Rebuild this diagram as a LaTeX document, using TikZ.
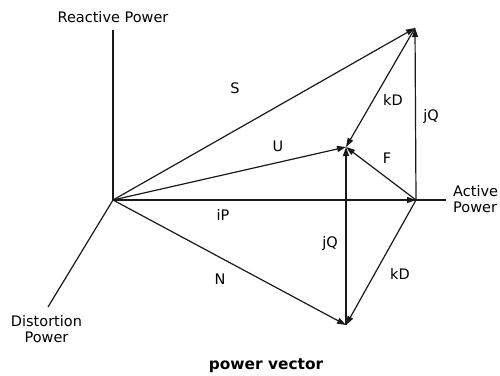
\documentclass[tikz,border=0pt]{standalone}
\usepackage{fontspec}
\setmainfont{DejaVu Sans}
\usetikzlibrary{arrows.meta}
\tikzset{
  axisline/.style={line width=1.2pt,black!90},
  vec/.style={line width=1.2pt,black!90,-{Triangle[length=9pt,width=6pt]}},
  lab/.style={font=\fontsize{14.5}{16}\selectfont,inner sep=0pt,text height=10.5pt,text depth=0pt},
  axlab/.style={font=\fontsize{14.5}{16}\selectfont,inner sep=0pt,align=center},
  ttl/.style={font=\bfseries\fontsize{15.4}{18}\selectfont,inner sep=0pt,text height=11pt,text depth=0pt}
}

\begin{document}
\begin{tikzpicture}[x=1pt,y=-1pt]
  \useasboundingbox (0,0) rectangle (500,375);

  % axes
  \coordinate (O) at (113,200);
  \coordinate (reactend) at (113,30);
  \coordinate (activeend) at (446,200);
  \coordinate (distend) at (48,307);
  \draw[axisline] (O) -- (reactend);
  \draw[axisline] (O) -- (activeend);
  \draw[axisline] (O) -- (distend);
  \node[axlab] (reactlab) at (113,17) {Reactive Power};
  \node[axlab,align=left,anchor=west] (activelab) at (453,199.5) {Active\\Power};
  \node[axlab] (distlab) at (46.5,329.5) {Distortion\\Power};

  % vector tips
  \coordinate (T) at (415,28);
  \coordinate (M) at (346,147);
  \coordinate (A) at (416,200);
  \coordinate (B) at (346,325);

  \draw[vec] (O) -- (T);
  \draw[vec] (O) -- (M);
  \draw[vec] (O) -- (A);
  \draw[vec] (O) -- (B);
  \draw[vec] (A) -- (T);
  \draw[vec] (T) -- (M);
  \draw[vec] (A) -- (M);
  \draw[vec] (B) -- (M);
  \draw[vec] (A) -- (B);

  \node[lab] (S) at (235,88) {S};
  \node[lab] (U) at (278,146) {U};
  \node[lab] (kDtop) at (393,100) {kD};
  \node[lab] (jQright) at (431,115) {jQ};
  \node[lab] (F) at (387,158) {F};
  \node[lab] (iP) at (223,215) {iP};
  \node[lab] (jQlow) at (330,242) {jQ};
  \node[lab] (kDlow) at (400,274) {kD};
  \node[lab] (N) at (220,279) {N};

  \node[ttl] (title) at (266,364) {power vector};
\end{tikzpicture}
\end{document}
